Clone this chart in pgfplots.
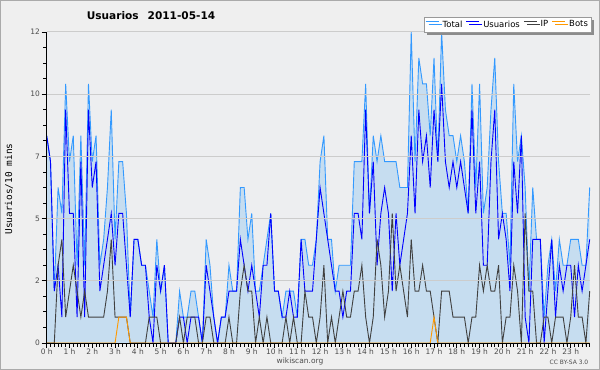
\documentclass[border=0pt]{standalone}
\usepackage{fontspec}
\setmainfont{DejaVu Sans}
\setmonofont{DejaVu Sans Mono}
\usepackage{pgfplots}
\usepackage{pgfplotstable}
\pgfplotsset{compat=1.18}
\usetikzlibrary{shadows}
\definecolor{bgcol}{RGB}{239,239,239}
\definecolor{plotbg}{RGB}{237,238,240}
\definecolor{bordercol}{RGB}{170,170,170}
\definecolor{gridcol}{RGB}{204,204,204}
\definecolor{fillcol}{RGB}{198,221,240}
\definecolor{totcol}{RGB}{51,153,255}
\definecolor{usrcol}{RGB}{0,0,255}
\definecolor{ipcol}{RGB}{64,64,64}
\definecolor{botcol}{RGB}{255,153,0}

\pgfplotstableread{
i T U IP B
0 8 8 0 0
1 7 7 0 0
2 2 2 0 0
3 6 3 3 0
4 5 1 4 0
5 10 9 1 0
6 7 5 2 0
7 8 5 3 0
8 3 1 2 0
9 8 7 1 0
10 3 1 2 0
11 10 9 1 0
12 7 6 1 0
13 8 7 1 0
14 3 2 1 0
15 4 3 1 0
16 6 4 2 0
17 9 5 4 0
18 4 3 1 0
19 7 5 1 1
20 7 5 1 1
21 5 3 1 1
22 1 1 0 0
23 4 4 0 0
24 4 4 0 0
25 3 3 0 0
26 3 3 0 0
27 2 1 1 0
28 1 0 1 0
29 4 3 1 0
30 2 2 0 0
31 3 3 0 0
32 0 0 0 0
33 0 0 0 0
34 0 0 0 0
35 2 1 1 0
36 1 1 0 0
37 1 0 1 0
38 2 1 1 0
39 2 1 1 0
40 1 1 0 0
41 0 0 0 0
42 4 3 1 0
43 3 2 1 0
44 1 1 0 0
45 0 0 0 0
46 1 1 0 0
47 1 1 0 0
48 3 2 1 0
49 2 2 0 0
50 2 2 0 0
51 6 4 2 0
52 6 3 3 0
53 4 2 2 0
54 5 3 2 0
55 2 2 0 0
56 2 1 1 0
57 3 3 0 0
58 4 3 1 0
59 5 5 0 0
60 2 2 0 0
61 2 2 0 0
62 1 1 0 0
63 2 1 1 0
64 2 2 0 0
65 2 1 1 0
66 1 1 0 0
67 4 4 0 0
68 4 2 2 0
69 3 2 1 0
70 3 2 1 0
71 4 4 0 0
72 7 6 1 0
73 8 5 3 0
74 4 4 0 0
75 4 3 1 0
76 2 2 0 0
77 3 2 1 0
78 3 1 2 0
79 3 2 1 0
80 3 2 1 0
81 7 5 2 0
82 7 5 2 0
83 7 4 3 0
84 10 9 1 0
85 5 5 0 0
86 8 7 1 0
87 7 3 4 0
88 8 5 3 0
89 7 6 1 0
90 7 5 2 0
91 7 2 5 0
92 7 5 2 0
93 6 3 3 0
94 6 4 2 0
95 6 5 1 0
96 12 8 4 0
97 7 5 2 0
98 11 9 2 0
99 10 7 3 0
100 10 8 2 0
101 8 6 2 0
102 11 9 1 1
103 7 7 0 0
104 12 10 2 0
105 9 7 2 0
106 8 6 2 0
107 8 7 1 0
108 7 6 1 0
109 8 7 1 0
110 7 6 1 0
111 5 5 0 0
112 10 9 1 0
113 6 5 1 0
114 10 7 3 0
115 5 3 2 0
116 6 3 3 0
117 9 7 2 0
118 11 9 2 0
119 7 4 3 0
120 5 5 0 0
121 5 4 1 0
122 3 2 1 0
123 10 7 3 0
124 7 5 2 0
125 8 8 0 0
126 6 1 5 0
127 2 0 2 0
128 6 4 2 0
129 4 4 0 0
130 4 4 0 0
131 1 0 1 0
132 3 2 1 0
133 4 4 0 0
134 2 1 1 0
135 4 3 1 0
136 3 2 1 0
137 3 3 0 0
138 4 3 1 0
139 4 1 3 0
140 4 3 1 0
141 3 2 1 0
142 3 3 0 0
143 6 4 2 0
}\datatable

\begin{document}
\begin{tikzpicture}
\path[use as bounding box] (0,0) rectangle (600bp,370bp);
\fill[bgcol] (0,0) rectangle (600bp,370bp);
\draw[bordercol, line width=1bp] (0.5bp,0.5bp) rectangle (599.5bp,369.5bp);
\begin{axis}[
  at={(46.7bp,27bp)}, anchor=south west,
  scale only axis, width=543bp, height=311bp,
  xmin=0, xmax=143, ymin=0, ymax=12,
  clip=false,
  axis on top,
  axis background/.style={fill=plotbg},
  axis x line*=bottom, axis y line*=left,
  axis line style={-, black, line width=1bp},
  tick align=outside,
  major tick length=5bp, minor tick length=3.5bp,
  tick style={black, line width=0.8bp},
  xtick={0,6,...,138},
  xticklabels={0 h,1 h,2 h,3 h,4 h,5 h,6 h,7 h,8 h,9 h,10 h,11 h,12 h,13 h,14 h,15 h,16 h,17 h,18 h,19 h,20 h,21 h,22 h,23 h},
  minor xtick={0,...,143},
  ytick={0,2.4,4.8,7.2,9.6,12},
  yticklabels={0,2,5,7,10,12},
  minor ytick={0.6,1.2,1.8,3.0,3.6,4.2,5.4,6.0,6.6,7.8,8.4,9.0,10.2,10.8,11.4},
  ymajorgrids, grid style={gridcol, line width=1bp},
  ticklabel style={font=\fontsize{7.5}{8}\selectfont, text=black!70},
  xticklabel style={inner sep=1bp},
  yticklabel style={inner sep=1.5bp},
  /pgf/number format/assume math mode=true,
  legend style={at={(1.003,1)}, anchor=south east, draw=black!40, fill=white,
    font=\fontsize{8.5}{9}\selectfont, inner sep=1.2bp,
    /tikz/every odd column/.append style={column sep=1.5bp},
    /tikz/every even column/.append style={column sep=1.5bp},
    drop shadow={shadow xshift=3bp, shadow yshift=-3bp, fill=black!45, opacity=1}},
  legend columns=4,
  legend image code/.code={\draw[#1, line width=0.9bp] (0bp,3bp) -- (13bp,3bp);},
]
\addplot[fill=fillcol, draw=none, forget plot] table[x=i, y=T] {\datatable} \closedcycle;
\addplot[totcol, line width=0.9bp] table[x=i, y=T] {\datatable};
\addlegendentry{Total}
\addplot[usrcol, line width=0.9bp] table[x=i, y=U] {\datatable};
\addlegendentry{Usuarios}
\addplot[ipcol, line width=0.9bp] table[x=i, y=IP] {\datatable};
\addlegendentry{IP}
\addplot[botcol, line width=0.9bp] table[x=i, y=B] {\datatable};
\addlegendentry{Bots}
\end{axis}
\node[font=\bfseries\fontsize{10.6}{12}\selectfont] at (151bp,354bp) {Usuarios\hspace{9bp}2011-05-14};
\node[font=\ttfamily\fontsize{9.5}{10}\selectfont, rotate=90] at (9bp,181bp) {Usuarios/10 mins};
\node[font=\fontsize{7.5}{8}\selectfont, text=black!70] at (300bp,9bp) {wikiscan.org};
\node[font=\fontsize{6}{7}\selectfont, text=black!70] at (569bp,7.5bp) {CC BY-SA 3.0};
\end{tikzpicture}
\end{document}
